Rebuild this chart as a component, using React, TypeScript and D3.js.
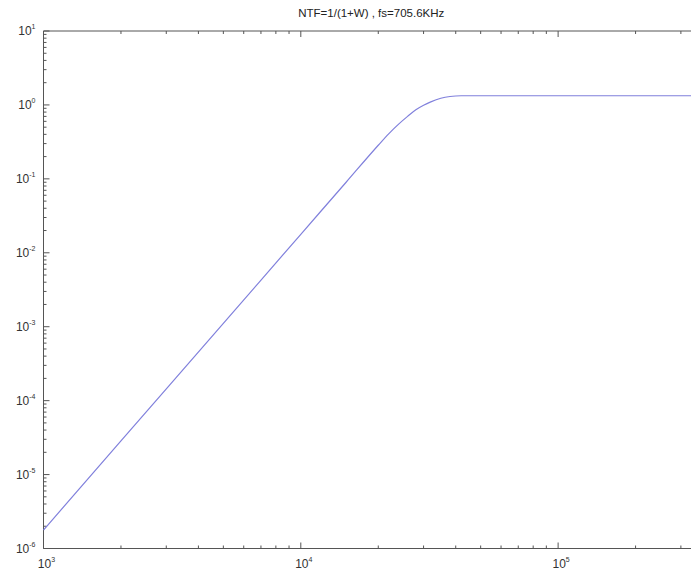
import React from "react";
import * as d3 from "d3";

// values
const freqs = [1000, 2000, 5000, 10000, 15000, 20000, 22000, 24000, 26000, 28000, 30000, 32000, 35000, 38000, 42000, 50000, 100000, 200000, 352800];
const ntf = [1.78e-6, 2.85e-5, 1.11e-3, 1.78e-2, 0.09, 0.285, 0.41, 0.55, 0.7, 0.86, 0.99, 1.1, 1.23, 1.3, 1.33, 1.33, 1.33, 1.33, 1.33];
const xDecades = [3, 4, 5];
const yDecades = [1, 0, -1, -2, -3, -4, -5, -6];
const title = "NTF=1/(1+W) , fs=705.6KHz";

const W = 691;
const H = 573;
const left = 43.5;
const right = 699;
const top = 31;
const bottom = 548.5;

export default function App() {
  const x = d3.scaleLog().domain([1e3, 352800]).range([left, right]);
  const y = d3.scaleLog().domain([1e-6, 1e1]).range([bottom, top]);

  const xMinor: number[] = [];
  for (let e = 3; e <= 5; e++) for (let k = 2; k <= 9; k++) if (k * 10 ** e <= 352800) xMinor.push(k * 10 ** e);
  const yMinor: number[] = [];
  for (let e = -6; e < 1; e++) for (let k = 2; k <= 9; k++) yMinor.push(k * 10 ** e);

  const line = d3
    .line<number>()
    .x((_, i) => x(freqs[i]))
    .y((d) => y(d))
    .curve(d3.curveMonotoneX);

  const axisColor = "#555";
  const font = "Helvetica, Arial, 'Liberation Sans', sans-serif";

  return (
    <svg width={W} height={H} style={{ position: "absolute", left: 0, top: 0, background: "#fff" }}>
      <text x={(left + right) / 2} y={17} textAnchor="middle" fontFamily={font} fontSize={11.5} fill="#222">
        {title}
      </text>
      <g stroke={axisColor} strokeWidth={1} fill="none">
        <line x1={left} x2={right} y1={top} y2={top} />
        <line x1={left} x2={right} y1={bottom} y2={bottom} />
        <line x1={left} x2={left} y1={top} y2={bottom} />
        {xDecades.map((e) => (
          <g key={"xm" + e}>
            <line x1={x(10 ** e)} x2={x(10 ** e)} y1={bottom} y2={bottom - 6} />
            <line x1={x(10 ** e)} x2={x(10 ** e)} y1={top} y2={top + 6} />
          </g>
        ))}
        {xMinor.map((v) => (
          <g key={"xn" + v}>
            <line x1={x(v)} x2={x(v)} y1={bottom} y2={bottom - 3} />
            <line x1={x(v)} x2={x(v)} y1={top} y2={top + 3} />
          </g>
        ))}
        {yDecades.map((e) => (
          <line key={"ym" + e} x1={left} x2={left + 6} y1={y(10 ** e)} y2={y(10 ** e)} />
        ))}
        {yMinor.map((v) => (
          <line key={"yn" + v} x1={left} x2={left + 3} y1={y(v)} y2={y(v)} />
        ))}
      </g>
      <path d={line(ntf) ?? ""} fill="none" stroke="#8080dc" strokeWidth={1.2} />
      <g fontFamily={font} fill="#333">
        {yDecades.map((e) => (
          <text key={"yl" + e} x={left - 8} y={y(10 ** e) + 4} textAnchor="end" fontSize={12}>
            10
            <tspan dy={-6} fontSize={7}>{e}</tspan>
          </text>
        ))}
        {xDecades.map((e) => (
          <text key={"xl" + e} x={x(10 ** e) + 3} y={bottom + 19} textAnchor="middle" fontSize={12}>
            10
            <tspan dy={-6} fontSize={7}>{e}</tspan>
          </text>
        ))}
      </g>
    </svg>
  );
}
